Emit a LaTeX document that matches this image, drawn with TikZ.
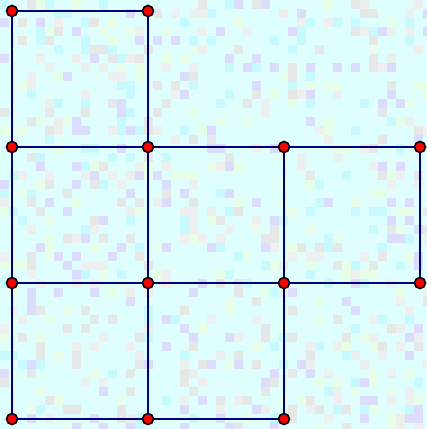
\documentclass[tikz,border=0pt]{standalone}
\definecolor{bgcyan}{HTML}{DFFFFF}
\definecolor{nA}{HTML}{EEF0F0}
\definecolor{nB}{HTML}{DCDCFF}
\definecolor{nC}{HTML}{E6FFE6}
\definecolor{nD}{HTML}{C6FAFF}
\definecolor{nE}{HTML}{E6E8E8}
\definecolor{edgeblue}{HTML}{00007F}
\tikzset{
  vtx/.style={circle,draw=black,fill=red,line width=1.6pt,minimum size=11pt,inner sep=0pt},
  edge/.style={draw=edgeblue,line width=2.5pt},
}
\begin{document}
\begin{tikzpicture}[x=1pt,y=-1pt]
\useasboundingbox (0,0) rectangle (427,429);
\fill[bgcyan] (0,0) rectangle (427,429);
\pgfmathsetseed{7}
\foreach \i in {0,...,47}{\foreach \j in {0,...,47}{
  \pgfmathrandominteger{\r}{0}{15}
  \ifcase\r\relax
    \fill[nA] (\i*9,\j*9) rectangle ++(9,9);
  \or
    \fill[nB] (\i*9,\j*9) rectangle ++(9,9);
  \or
    \fill[nC] (\i*9,\j*9) rectangle ++(9,9);
  \or
    \fill[nD] (\i*9,\j*9) rectangle ++(9,9);
  \or
    \fill[nE] (\i*9,\j*9) rectangle ++(9,9);
  \else
  \fi
}}
% vertices
\coordinate (a1) at (12,11);
\coordinate (a2) at (148,11);
\coordinate (b1) at (12,147);
\coordinate (b2) at (148,147);
\coordinate (b3) at (284,147);
\coordinate (b4) at (420,147);
\coordinate (c1) at (12,283);
\coordinate (c2) at (148,283);
\coordinate (c3) at (284,283);
\coordinate (c4) at (420,283);
\coordinate (d1) at (12,419);
\coordinate (d2) at (148,419);
\coordinate (d3) at (284,419);
% edges
\draw[edge] (a1) -- (a2) -- (b2);
\draw[edge] (a1) -- (b1) -- (c1) -- (d1) -- (d2) -- (d3) -- (c3) -- (b3) -- (b4) -- (c4) -- (c3);
\draw[edge] (b1) -- (b2) -- (b3);
\draw[edge] (c1) -- (c2) -- (c3);
\draw[edge] (b2) -- (c2) -- (d2);
% dots
\foreach \v in {a1,a2,b1,b2,b3,b4,c1,c2,c3,c4,d1,d2,d3}{
  \node[vtx] (n\v) at (\v) {};
}
\end{tikzpicture}
\end{document}
